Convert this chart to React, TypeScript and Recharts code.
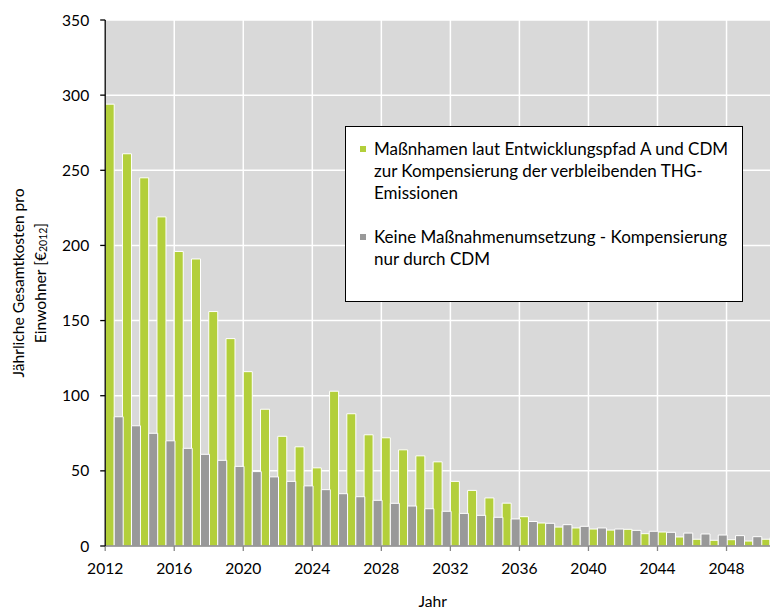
import React from 'react';
import { BarChart, Bar, XAxis, YAxis, CartesianGrid, Legend } from 'recharts';

const years = [
  2012, 2013, 2014, 2015, 2016, 2017, 2018, 2019, 2020, 2021,
  2022, 2023, 2024, 2025, 2026, 2027, 2028, 2029, 2030, 2031,
  2032, 2033, 2034, 2035, 2036, 2037, 2038, 2039, 2040, 2041,
  2042, 2043, 2044, 2045, 2046, 2047, 2048, 2049, 2050,
];

// Maßnahmen laut Entwicklungspfad A und CDM
const massnahmen = [
  294, 261, 245, 219, 196, 191, 156, 138, 116, 91,
  73, 66, 52, 103, 88, 74, 72, 64, 60, 56,
  43, 37, 32, 28.5, 19.5, 15.3, 12.6, 12, 11.3, 10.6,
  11.1, 8.2, 9.3, 6, 4.5, 3.8, 4.2, 3.3, 4.5,
];

// Keine Maßnahmenumsetzung - nur CDM
const keine = [
  86, 80, 75, 70, 65, 61, 57, 53, 49.5, 46,
  43, 40, 37.5, 34.8, 32.8, 30.4, 28.4, 26.6, 24.8, 23.1,
  21.7, 20.4, 19.1, 18, 16.3, 15.1, 14.2, 13.1, 12, 11.3,
  10.4, 9.8, 9.1, 8.6, 8, 7.3, 6.9, 6.2, 5.6,
];

const yearTicks = [2012, 2016, 2020, 2024, 2028, 2032, 2036, 2040, 2044, 2048];
const valueTicks = [0, 50, 100, 150, 200, 250, 300, 350];

const GREEN = '#b3cf3b';
const GREY = '#999999';
const FONT = 'Lato, "Open Sans", sans-serif';

const data = years.map((year, i) => ({
  year,
  massnahmen: massnahmen[i],
  keine: keine[i],
}));

const legendItems = [
  {
    color: GREEN,
    lines: [
      'Maßnhamen laut Entwicklungspfad A und CDM',
      'zur Kompensierung der verbleibenden THG-',
      'Emissionen',
    ],
  },
  {
    color: GREY,
    lines: ['Keine Maßnahmenumsetzung - Kompensierung', 'nur durch CDM'],
  },
];

const renderLegend = () => (
  <div
    style={{
      boxSizing: 'border-box',
      width: 398,
      height: 176,
      border: '1.5px solid #000',
      background: '#fff',
      padding: '11px 0 0 14px',
      fontFamily: FONT,
      fontSize: 17,
      color: '#000',
    }}
  >
    {legendItems.map((item, idx) => (
      <div key={idx} style={{ display: 'flex', alignItems: 'flex-start', marginBottom: 22 }}>
        <span
          style={{
            width: 6,
            height: 6,
            background: item.color,
            marginTop: 8,
            marginRight: 8,
            flex: 'none',
          }}
        />
        <div style={{ lineHeight: '22px' }}>
          {item.lines.map((l) => (
            <div key={l}>{l}</div>
          ))}
        </div>
      </div>
    ))}
  </div>
);

const YLabel = (props: any) => {
  const vb = props.viewBox;
  const cy = vb.y + vb.height / 2;
  return (
    <g fontFamily={FONT} fontSize={15.6} fill="#000" textAnchor="middle">
      <text x={18} y={cy} transform={`rotate(-90, 18, ${cy})`} dominantBaseline="central">
        Jährliche Gesamtkosten pro
      </text>
      <text x={40} y={cy} transform={`rotate(-90, 40, ${cy})`} dominantBaseline="central">
        <tspan>Einwohner [€</tspan>
        <tspan fontSize={10.5} dy={3}>2012</tspan>
        <tspan dy={-3}>]</tspan>
      </text>
    </g>
  );
};

const XLabel = (props: any) => {
  const vb = props.viewBox;
  return (
    <text
      x={vb.x + vb.width / 2 - 9}
      y={607}
      fontFamily={FONT}
      fontSize={15.6}
      fill="#000"
      textAnchor="middle"
    >
      Jahr
    </text>
  );
};

export default function App() {
  return (
    <div
      style={{
        position: 'absolute',
        left: 0,
        top: 0,
        width: 770,
        height: 610,
        overflow: 'hidden',
        background: '#fff',
      }}
    >
      <BarChart
        width={800}
        height={610}
        data={data}
        margin={{ top: 20, right: 21.7, bottom: 24, left: 0 }}
        barCategoryGap={0}
        barGap={0}
      >
        <CartesianGrid
          xAxisId="num"
          fill="#d9d9d9"
          stroke="#ffffff"
          strokeWidth={1.5}
          fillOpacity={1}
        />
        <XAxis xAxisId="cat" dataKey="year" type="category" orientation="top" hide />
        <XAxis
          xAxisId="num"
          dataKey="year"
          type="number"
          domain={[2012, 2051]}
          ticks={yearTicks}
          allowDataOverflow
          height={40}
          axisLine={{ stroke: '#868686', strokeWidth: 1.3 }}
          tickLine={{ stroke: '#868686', strokeWidth: 1.3 }}
          tickSize={5}
          tickMargin={12}
          tick={{ fill: '#000', fontSize: 15.6, fontFamily: FONT }}
          label={{ content: XLabel }}
        />
        <YAxis
          domain={[0, 350]}
          ticks={valueTicks}
          width={105.2}
          axisLine={{ stroke: '#000', strokeWidth: 1.3 }}
          tickLine={{ stroke: '#000', strokeWidth: 1.3 }}
          tickSize={5}
          tickMargin={11}
          tick={{ fill: '#000', fontSize: 15.6, fontFamily: FONT }}
          label={{ content: YLabel }}
        />
        <Legend
          layout="vertical"
          align="center"
          verticalAlign="middle"
          content={renderLegend}
          wrapperStyle={{ left: 345, top: 126, width: 398, height: 176 }}
        />
        <Bar
          xAxisId="cat"
          dataKey="massnahmen"
          name="Maßnhamen laut Entwicklungspfad A und CDM"
          fill={GREEN}
          stroke="#fff"
          strokeWidth={1}
          isAnimationActive={false}
        />
        <Bar
          xAxisId="cat"
          dataKey="keine"
          name="Keine Maßnahmenumsetzung - Kompensierung nur durch CDM"
          fill={GREY}
          stroke="#fff"
          strokeWidth={1}
          isAnimationActive={false}
        />
      </BarChart>
    </div>
  );
}
